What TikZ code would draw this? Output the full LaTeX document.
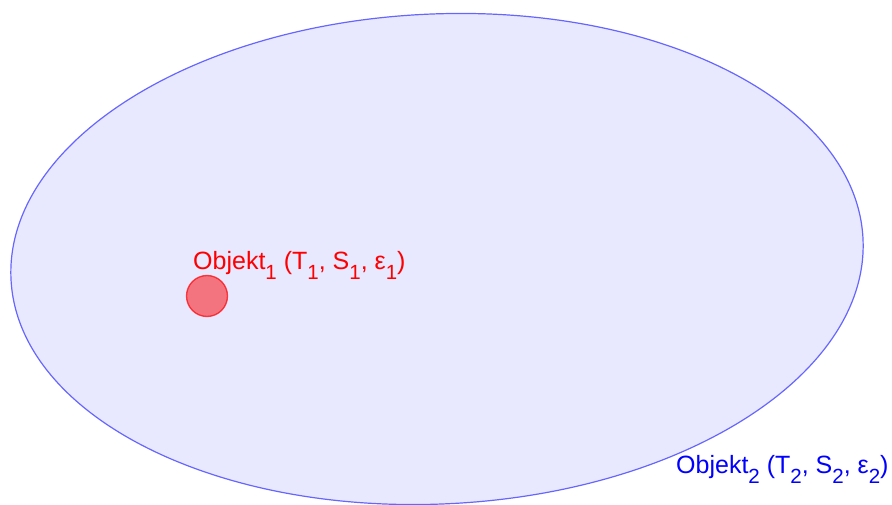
\documentclass[tikz,border=0pt]{standalone}
\usepackage{fontspec}
\setmainfont{Liberation Sans}
\usetikzlibrary{shapes.geometric}

\newcommand{\idx}[1]{\raisebox{-0.4em}{\fontsize{20.5}{22}\selectfont #1}}

\begin{document}
\begin{tikzpicture}[x=1pt, y=1pt, font=\fontsize{25}{29}\selectfont]
\tikzstyle{outer}=[ellipse, draw=blue!60, fill=blue!9, line width=1.2pt, inner sep=0pt]
\tikzstyle{inner}=[circle, draw=red, draw opacity=0.7, fill=red, fill opacity=0.5, line width=1.3pt, minimum size=41pt, inner sep=0pt]
\tikzstyle{lbl}=[inner sep=0pt, anchor=base west]

\useasboundingbox (0,0) rectangle (892,504);

% the two bodies
\node[outer, minimum width=853pt, minimum height=490pt, rotate=2.7] (obj2) at (437,245) {};
\node[inner] (obj1) at (207,208) {};

% labels
\node[lbl, text=red] (lbl1) at (193,234) {Objekt\idx{1} (T\idx{1}, S\idx{1}, ε\idx{1})};
\node[lbl, text=blue] (lbl2) at (676,31) {Objekt\idx{2} (T\idx{2}, S\idx{2}, ε\idx{2})};
\end{tikzpicture}
\end{document}
